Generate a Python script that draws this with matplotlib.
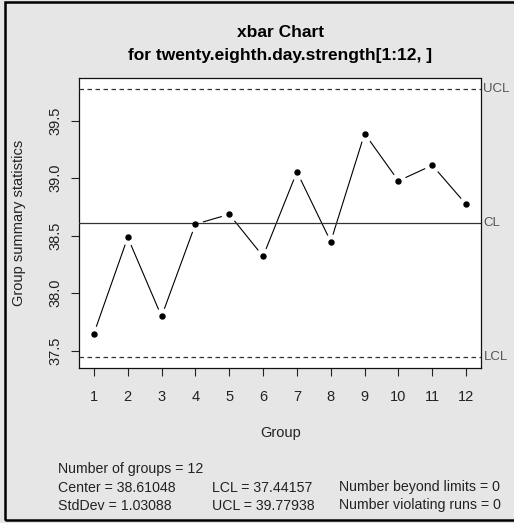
import matplotlib
matplotlib.use("Agg")
import matplotlib.pyplot as plt
from matplotlib.patches import Rectangle

plt.rcParams['font.family'] = ['Liberation Sans', 'DejaVu Sans']

# group means of the 28th day strength samples
groups = list(range(1, 13))
group_means = [37.648, 38.485, 37.797, 38.600, 38.686, 38.320,
               39.056, 38.448, 39.389, 38.977, 39.113, 38.773]

center = 38.61048
lcl = 37.44157
ucl = 39.77938
std_dev = 1.03088
y_ticks = [37.5, 38.0, 38.5, 39.0, 39.5]

bg = '#e6e6e6'
fig = plt.figure(figsize=(5.14, 5.23), dpi=100, facecolor=bg)
ax = fig.add_axes([0.1537, 0.2964, 0.7821, 0.5545])
ax.set_facecolor('white')

# R style 4% padding on both axes
xr = groups[-1] - groups[0]
ax.set_xlim(groups[0] - 0.04 * xr, groups[-1] + 0.04 * xr)
lo = min(min(group_means), lcl)
hi = max(max(group_means), ucl)
ax.set_ylim(lo - 0.04 * (hi - lo), hi + 0.04 * (hi - lo))

# connecting line with gaps round each point (type = "b")
ax.plot(groups, group_means, color='black', lw=0.8, zorder=2)
ax.plot(groups, group_means, 'o', color='white', ms=11.5, mew=0, zorder=3)

# control limits
ax.axhline(center, color='#333333', lw=0.9, zorder=4)
ax.axhline(lcl, color='#333333', lw=0.9, ls=(0, (3.6, 2.8)), zorder=4)
ax.axhline(ucl, color='#333333', lw=0.9, ls=(0, (3.6, 2.8)), zorder=4)
ax.plot(groups, group_means, 'o', color='black', ms=3.6, zorder=5)

ax.set_xticks(groups)
ax.set_yticks(y_ticks)
ax.set_yticklabels(['%.1f' % v for v in y_ticks], rotation=90, va='center')
ax.tick_params(axis='both', direction='out', length=6, width=0.8,
               labelsize=10.5, labelcolor='#222222', color='#222222')
ax.tick_params(axis='x', pad=10)
ax.tick_params(axis='y', pad=6)
for s in ax.spines.values():
    s.set_linewidth(0.9)
    s.set_color('#111111')

trans = ax.get_yaxis_transform()
for val, lab in [(ucl, 'UCL'), (center, 'CL'), (lcl, 'LCL')]:
    ax.text(1.006, val, lab, transform=trans, ha='left', va='center',
            fontsize=9.5, color='#555555', clip_on=False)

fig.text(0.545, 0.9388, 'xbar Chart', ha='center', va='center',
         fontsize=12.5, fontweight='bold')
fig.text(0.545, 0.8939, 'for twenty.eighth.day.strength[1:12, ]',
         ha='center', va='center', fontsize=12.5, fontweight='bold')
fig.text(0.545, 0.172, 'Group', ha='center', va='center', fontsize=10.5,
         color='#222222')
fig.text(0.036, 0.5736, 'Group summary statistics', ha='center', va='center',
         rotation=90, fontsize=10.5, color='#222222')

# summary statistics
stats_rows = [
    (0.1134, 1 - 469.5 / 523, 'Number of groups = %d' % len(groups)),
    (0.1134, 1 - 487.5 / 523, 'Center = %.5f' % center),
    (0.1134, 1 - 505.5 / 523, 'StdDev = %.5f' % std_dev),
    (0.413, 1 - 487.5 / 523, 'LCL = %.5f' % lcl),
    (0.413, 1 - 505.5 / 523, 'UCL = %.5f' % ucl),
    (0.660, 1 - 487.5 / 523, 'Number beyond limits = 0'),
    (0.660, 1 - 505.5 / 523, 'Number violating runs = 0'),
]
for x, y, s in stats_rows:
    fig.text(x, y, s, ha='left', va='center', fontsize=10.2, color='#222222')

# outer frame
fig.patches.append(Rectangle((5 / 514, 3 / 523), 1.0, 1 - 5 / 523,
                             transform=fig.transFigure, fill=False,
                             edgecolor='black', lw=1.8))

fig.savefig('out.png', dpi=100, facecolor=bg)
